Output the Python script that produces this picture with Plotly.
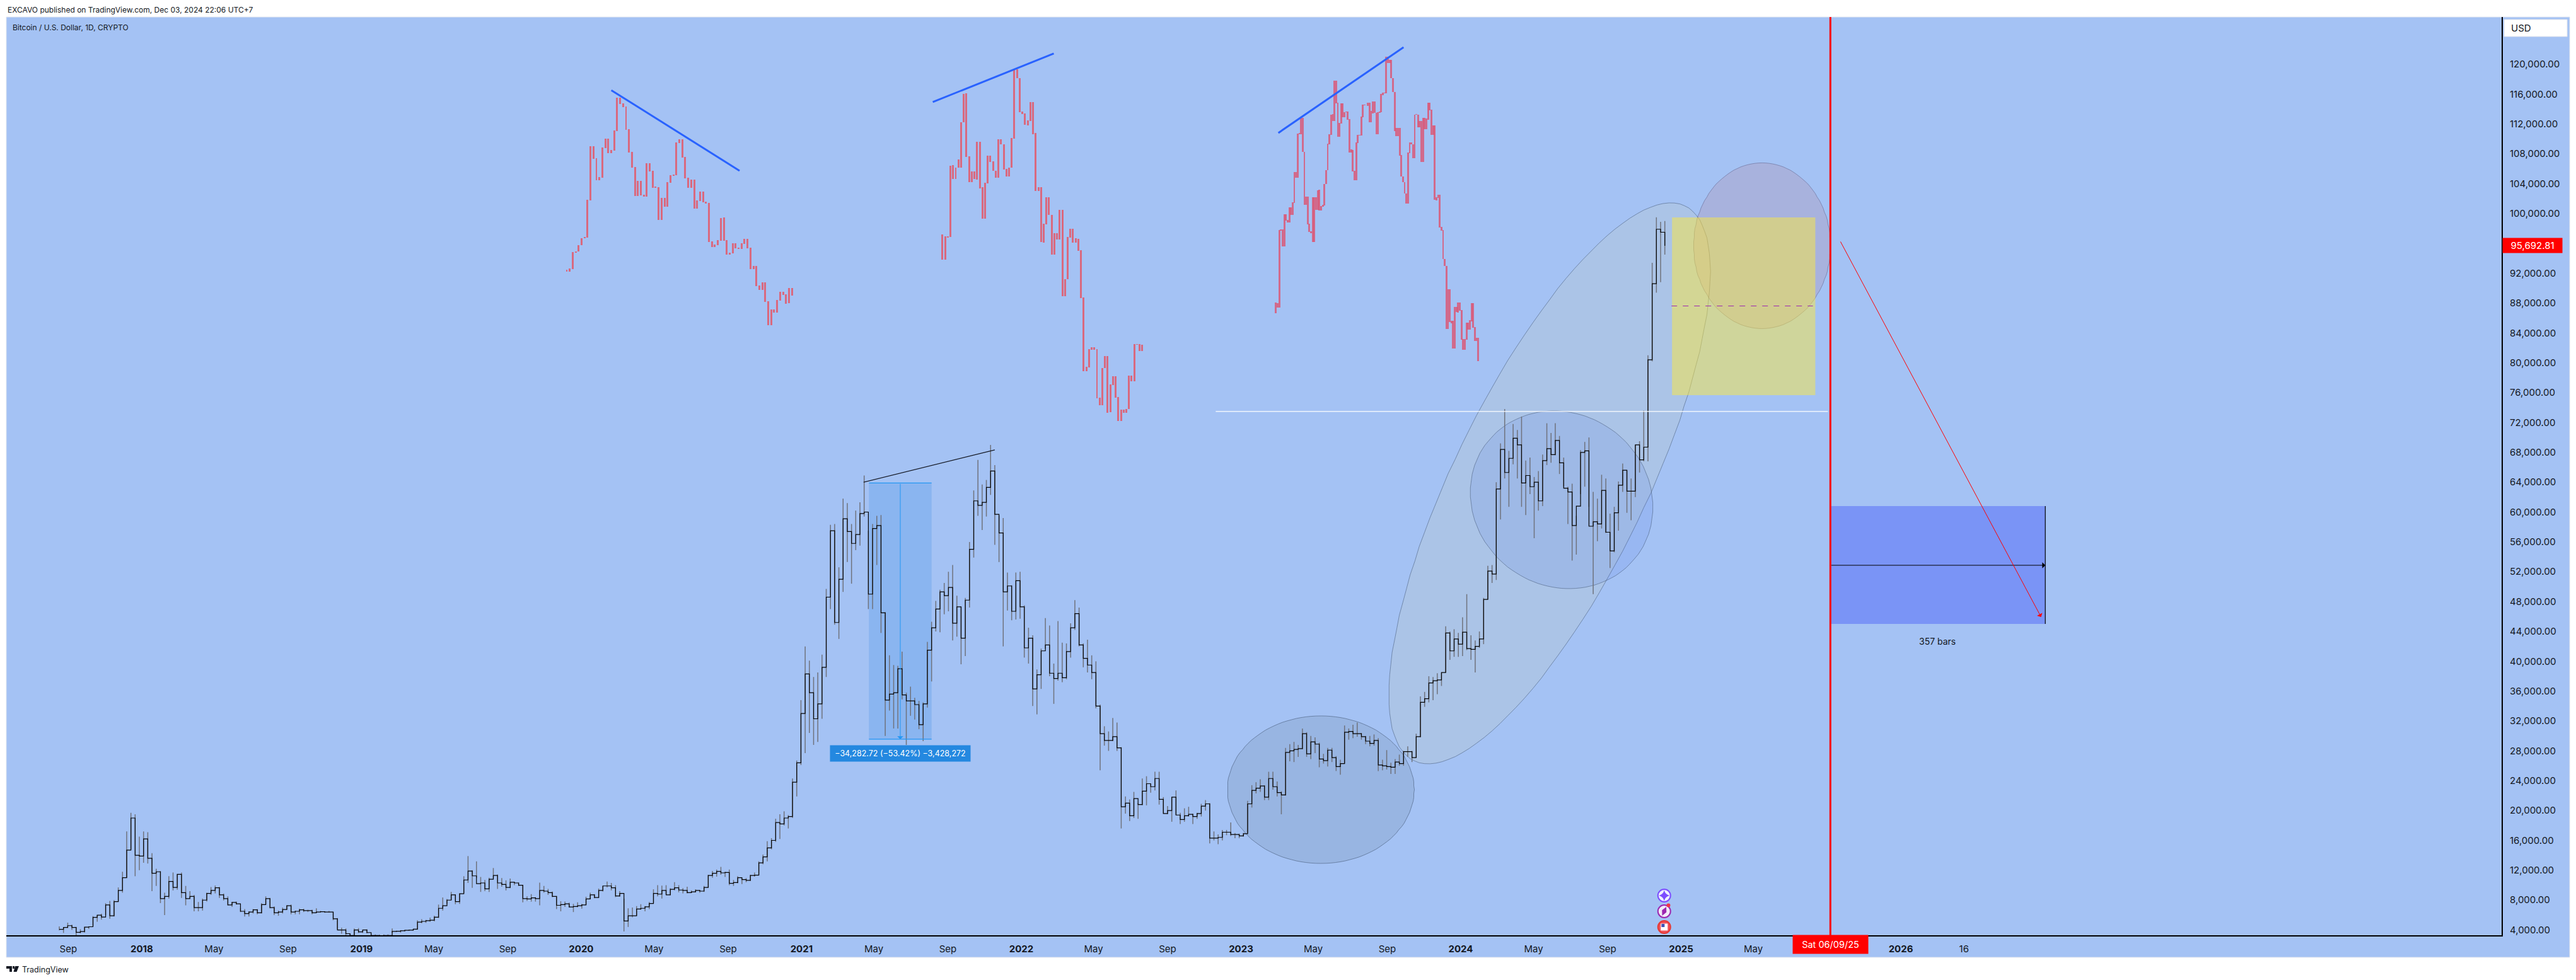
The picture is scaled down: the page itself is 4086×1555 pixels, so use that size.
import numpy as np
import pandas as pd
import plotly.graph_objects as go

# ---------- weekly price data (USD) ----------
week_starts = {2017: "2017-08-14", 2018: "2018-01-01", 2019: "2019-01-07", 2020: "2020-01-06",
               2021: "2021-01-04", 2022: "2022-01-03", 2023: "2023-01-02", 2024: "2024-01-01"}

high_2017 = [4480,4380,4980,4700,4400,4100,4400,4440,5860,6000,6190,7590,7890,8000,9700,11800,17200,19700,19500,16500]
low_2017 = [3950,3600,4280,4000,3000,3550,3650,4130,4550,5100,5380,6000,5500,5800,7800,9000,11000,14800,11200,12000]
close_2017 = [4090,4340,4580,4330,3680,3780,4370,4430,5680,5990,5730,7360,5900,7800,9300,11000,14700,19000,14000,13900]

high_2018 = [17200,17100,14300,12200,11900,9000,11200,11700,11500,11700,9900,9200,8700,7750,8200,9000,9750,9950,9780,8880,8500,7770,7800,6900,6800,6500,6800,6800,7600,8500,8300,7150,6600,7000,7300,7400,6600,6850,6850,6700,6700,6900,6550,6500,6550,6400,5600,4300,4200,3550,4200,4250,4000]
low_2018 = [13000,12900,9200,9900,7600,6000,8200,9300,9400,8300,7300,8200,6500,6500,6600,7800,8700,8900,8300,7950,7300,7100,7400,6400,5800,5800,6200,6100,6200,7400,6900,6000,5900,6200,6700,6100,6100,6100,6400,6400,6100,6300,6400,6300,6350,5300,4100,3500,3250,3200,3200,3600,3600]
close_2018 = [16200,13600,11600,11800,8200,8500,10500,9700,11450,9000,8200,8500,7000,7000,8000,8900,9300,9650,8700,8200,7350,7700,7500,6500,6200,6400,6700,6300,7400,8200,7000,6300,6400,6750,7250,6400,6500,6700,6600,6600,6300,6400,6450,6400,6400,5500,4000,4000,3500,3250,4000,3750,4000]

high_2019 = [4100,3400,3400,3350,3400,3400,4200,3900,3950,4000,4050,4150,5300,5450,5350,5650,5900,7400,8350,8150,9100,8750,8900,11200,13900,12000,13200,11100,10700,11000,12300,11450,10950,10650,10900,10450,10350,10050,8500,8800,8400,10350,9900,9500,9150,8550,7850,7800,7650,7500,7700,7500]
low_2019 = [3550,3200,3200,3150,3200,3200,3600,3750,3650,3800,3900,3900,4100,4900,4950,5100,5150,5600,6600,7500,8000,7450,7500,8950,10300,9650,11000,9100,9200,9100,10900,9500,9800,9300,9600,10000,9900,7700,7900,7800,7800,7300,9000,8700,8400,6800,6500,7100,7000,6400,7050,6850]
close_2019 = [3650,3250,3250,3200,3250,3250,3800,3820,3900,3950,3980,4100,5050,5150,5250,5300,5700,6900,7250,8000,8700,7800,8850,10700,11900,11250,10200,10300,9500,10800,11300,10300,10100,9700,10400,10300,10000,8200,8150,8300,8200,9300,9200,9000,8500,7300,7400,7500,7080,7150,7250,7350]

high_2020 = [8450,9000,8800,9550,9900,10500,10300,10000,9200,8200,6900,7000,7200,7450,7200,7750,9450,10000,9950,10000,9600,10400,10000,9600,9800,9300,9450,9350,9900,11400,11900,12100,12450,11800,12100,10700,11200,10900,10950,11400,11700,13200,14100,15900,16300,18900,19500,19900,19400,24300,26700,34800]
low_2020 = [7350,8100,8250,8300,9150,9700,9300,8400,8450,3800,4400,5700,5900,6700,6500,6800,7650,8500,8200,8800,8650,9300,9050,8900,8900,8950,9050,9000,9100,9700,11000,11150,11400,11100,10000,9900,10250,10150,10400,10550,11150,11350,12800,13200,14800,15800,16200,18000,17600,19000,21900,26100]
close_2020 = [8150,8700,8350,9300,9900,9900,9650,8550,8900,5200,5900,5900,6800,6900,7100,7550,8900,8800,9300,8700,9450,9650,9350,9300,9000,9100,9300,9200,9700,11300,11600,11850,11650,11700,10250,10350,11000,10750,10650,11300,11350,13000,13800,15000,16000,18400,18200,19000,19200,23800,26400,33000]

high_2021 = [42000,40100,37900,38500,40900,49700,58300,58400,52600,61800,61200,58400,60200,61300,64900,57500,58400,59500,59600,46600,40800,39500,39400,41300,35800,36600,35100,34700,34500,42600,45300,48100,49600,50500,52000,52900,48800,47300,48500,56000,62900,67000,63700,64300,69000,66300,59500,59200,51900,50200,51900,52000]
low_2021 = [27700,30400,28800,29200,32300,37900,47000,44900,43000,49300,53300,50400,54900,55500,59400,47000,47000,52900,43800,30000,33400,31000,31000,34900,28800,32700,32200,30900,29300,33800,37300,44000,43900,46300,46700,42800,43300,39600,40700,47200,53900,59500,57600,59400,62300,55600,53300,42000,46800,45500,45600,45700]
close_2021 = [38300,35800,32300,34300,39200,48600,57500,45200,51000,59100,57400,55800,57000,59800,60000,49000,57800,58200,46500,34800,35600,35800,39000,35500,34700,34700,34200,31500,34300,41500,44500,47000,49300,48800,49900,45100,47300,43100,48200,55000,61500,60900,61300,63300,65500,59700,57200,49300,50100,46700,50800,47300]

high_2022 = [47500,44500,43500,38900,41700,45800,44800,39700,45400,42500,42400,45100,48200,47200,42400,42900,40800,40000,34200,31300,30600,32400,31800,28500,21900,21500,22500,21000,24300,24600,23500,25200,25200,21800,20600,21800,22700,19700,20300,20500,19600,19700,20900,21400,21000,17200,16800,17400,17400,18400,17000,16900]
low_2022 = [40500,39700,34000,32900,36300,41700,38000,34300,37400,37200,37600,40500,44200,42000,39200,38500,37600,33700,25400,28700,28000,29300,28000,17600,19600,18600,19000,18900,20700,20700,22400,22700,20800,19600,19500,18500,19400,18200,18500,19200,18200,18900,19200,20000,15600,16000,15500,16000,16700,16600,16300,16300]
close_2022 = [41800,43100,36300,38200,41400,42200,38400,37700,38400,37800,41300,44500,46400,42200,40400,39500,38500,34000,30300,29400,29400,29900,28400,20500,21000,19300,21600,20800,22600,23600,23200,24300,21500,19600,20000,21800,19400,18800,19300,19500,19200,19600,20600,20900,16300,16300,16400,17100,17100,16800,16800,16600]

high_2023 = [17000,21300,23400,23800,24200,23400,25200,25200,23900,22600,28400,28900,29200,28800,31000,30500,30000,29800,29100,27600,28400,28400,27300,26800,31400,31000,31500,31800,30400,30000,30000,30200,29700,26800,28100,26400,26900,27500,28000,28600,28000,30300,35300,35900,38000,37900,38400,38500,44700,44000,44300,43800]
low_2023 = [16500,17000,20400,22300,22500,21400,21400,22800,21900,19500,22000,26600,26500,27200,28200,27200,26900,27700,25800,26300,25900,26500,25300,24800,26300,29500,29700,29900,29500,28900,28600,28700,25300,25400,25500,24900,24900,26000,26000,27200,26500,27100,29800,33900,34500,34800,35600,36700,38500,40200,40600,40600]
close_2023 = [16900,20900,22700,23000,23300,21800,24300,23200,22400,22100,27800,28000,28200,28300,30300,27600,29200,28900,26900,26700,28100,27100,25900,26300,30500,30600,30300,30300,29900,29300,29000,29400,26100,26000,25900,25800,26500,26300,27900,27900,27100,29900,34500,35000,37100,37400,37500,38500,43800,41400,43000,42300]

high_2024 = [45900,49000,43500,42800,44000,48500,52800,52900,64000,69200,73800,68200,71800,71000,72800,66900,67300,64700,65500,67700,71900,70600,71900,70200,67300,63400,63800,59500,68300,69400,70000,62700,61800,65000,64500,59800,60700,64100,66500,65600,64500,69000,69500,73600,81000,93400,99500,98900,99000]
low_2024 = [40700,41500,40200,38500,41800,42300,48300,50500,50900,59000,64500,60700,66400,64500,60700,59600,62400,56500,60200,60800,66300,66600,67600,65100,63400,58400,53500,54300,62400,63400,60700,49000,56100,57800,57200,52500,54600,57500,62700,59900,58900,62000,65300,66800,66800,80200,89400,90800,94500]
close_2024 = [43900,41700,41600,42000,43000,48300,52100,51700,63100,68400,65300,67200,69900,69000,63900,64900,63400,64000,61500,66900,68500,67700,69600,66600,63200,62700,58200,60800,68000,68200,58100,58700,58400,62900,57300,54800,59900,63600,65600,62800,62800,69000,67000,68700,80400,90600,97900,97500,95692.81]

# ---------- pasted bar patterns at the top (range high / low) ----------
pat1_span = ("2019-12-08", "2020-12-16")
pat1_high = [92450,92650,94850,94850,95750,96680,96870,101830,109030,109030,107430,104870,108840,110050,110050,108530,111120,115540,115540,114780,114330,111310,108270,106250,104390,104390,102530,106750,106750,105740,103550,103550,102110,102110,104220,105150,105230,109540,109960,109960,107600,104810,104560,104560,101770,102950,102950,101600,101430,96280,95860,96450,99410,99490,96450,94760,96030,96030,95440,96030,96620,96620,95440,92990,92990,90370,90790,90790,88260,87160,87160,88430,89530,89530,89190,90030,90030]
pat1_low = [92260,92260,92590,94760,94900,95750,96680,96820,101800,107370,104500,104500,104840,108810,108130,108130,108470,111090,114720,114270,111260,108220,106190,102390,102390,102450,102310,102310,105680,103490,103490,99180,99180,100950,100950,104160,105090,105180,109480,107540,104760,103490,103490,100700,100700,101710,101540,101380,96230,95550,95550,95800,96400,96400,94540,94540,94700,95380,95300,95300,95970,95380,92590,92590,90310,89810,89750,88200,85080,85080,86770,86770,88370,89130,87950,88030,89050]

pat2_span = ("2021-08-23", "2022-07-21")
pat2_high = [97216,96954,96954,106417,106483,106154,107272,112234,116045,116144,107666,105662,105662,109638,109638,103526,104117,107765,107765,107009,105727,109966,109966,109276,105990,106154,110131,119331,119331,118148,113680,113417,112497,114961,114961,110820,103526,103526,98629,102178,102178,99813,97381,97381,100502,100502,91204,96855,97973,97973,96691,96625,95081,88771,79472,81837,82100,82100,81837,75332,79308,80917,80917,77106,78191,78191,75431,73722,73722,73821,78290,78290,82495,82495,82495,82429]
pat2_low = [93865,93865,96855,96855,104676,104676,106122,106122,112201,107633,104249,104249,104676,104577,103394,99353,99353,104084,106943,105695,104840,104840,109243,105924,104939,104939,106122,110065,118116,113614,113351,111938,111839,112431,110656,102999,102999,96231,96132,98596,99780,94522,94522,96493,96493,88968,88968,91171,96822,96067,96132,95048,88705,78914,78914,79407,81772,81772,75266,74346,74346,79341,73327,73426,77041,75365,72177,72177,73327,73262,73821,77567,77567,82429,81608,81542]

pat3_span = ("2023-02-28", "2024-01-30")
pat3_high = [88073,88016,97809,97866,97866,99922,99922,99151,100835,100835,101520,105575,105575,110714,110771,112855,112855,108287,102263,102263,98637,97638,102205,102148,102148,103148,103205,101007,101149,103976,105860,109343,110599,113226,113340,117851,117851,114853,112141,114767,114767,113626,113683,113683,112655,108601,108515,105774,109571,110542,110542,113000,114596,114596,114539,114825,114825,113797,115053,115053,113511,113568,113683,115995,116195,116195,121049,121049,120592,120592,118137,116281,111456,111456,111456,107858,104946,104204,102719,108144,109514,109514,109286,113283,113340,113283,112369,112369,112826,112826,112712,114825,114825,113911,111798,111798,102148,102491,102491,98209,97809,93926,92955,89872,89872,85646,85646,87502,87502,88073,88073,87074,83191,83191,85419,85419,85703,87988,87988,84790,83363,83363]
pat3_low = [86675,87445,87445,97752,95582,95582,99065,98837,98837,99808,99808,101435,104775,104775,110657,110657,108258,101149,101149,98580,97580,97352,96153,96153,100493,100493,100378,100378,100921,101092,103919,105803,109286,110542,112426,112426,114796,110285,110285,112027,112941,112941,113569,112598,108144,108144,105689,104432,104432,109486,110428,110428,112941,114482,114482,114425,112198,112198,113426,113511,110657,110657,113511,113568,115910,116081,116081,120192,120192,118137,116281,111085,110371,110371,107801,104946,104204,102719,101378,101378,108087,109286,107430,107430,113226,111570,111570,106945,106945,111342,111342,112598,113854,110571,110571,101863,101806,102091,98152,97752,93869,92955,84562,84562,85447,85304,81878,81878,86789,86732,87017,83134,81707,81707,83134,84447,84447,85589,84733,82962,82962,80251]

# ---------- axis labels ----------
price_ticks = list(range(4000, 124000, 4000))
time_tick_dates = ["2017-09-01"]
time_tick_labels = ["Sep"]
for yr in range(2018, 2025):
    time_tick_dates += [f"{yr}-01-01", f"{yr}-05-01", f"{yr}-09-01"]
    time_tick_labels += [f"<b>{yr}</b>", "May", "Sep"]
time_tick_dates += ["2025-01-01", "2025-05-01", "2026-01-01", "2026-04-16"]
time_tick_labels += ["<b>2025</b>", "May", "<b>2026</b>", "16"]

BG = "#a4c2f4"
INK = "#131722"
FONT = "Inter"

# frame helpers for the page chrome (title strip, footer, side labels)
def fx(v):
    return (v - 10) / 3958
def fy(v):
    return (1484 - v) / 1457

# ---------- weekly table ----------
frames = []
data_by_year = {2017: (high_2017, low_2017, close_2017), 2018: (high_2018, low_2018, close_2018),
                2019: (high_2019, low_2019, close_2019), 2020: (high_2020, low_2020, close_2020),
                2021: (high_2021, low_2021, close_2021), 2022: (high_2022, low_2022, close_2022),
                2023: (high_2023, low_2023, close_2023), 2024: (high_2024, low_2024, close_2024)}
for yr, (h, l, c) in data_by_year.items():
    n = min(len(h), len(l), len(c))
    d = pd.date_range(week_starts[yr], periods=n, freq="7D") + pd.Timedelta(days=3)
    frames.append(pd.DataFrame({"d": d, "h": h[:n], "l": l[:n], "c": c[:n]}))
wk = pd.concat(frames, ignore_index=True)

wick_x, wick_y = [], []
for d, h, l in zip(wk.d, wk.h, wk.l):
    wick_x += [d, d, None]
    wick_y += [l, h, None]

fig = go.Figure()

# pasted patterns
MS_DAY = 86400000
for span, hi, lo, col, wd in [(pat1_span, pat1_high, pat1_low, "#d9697f", 3.1),
                              (pat2_span, pat2_high, pat2_low, "#d9697f", 3.1),
                              (pat3_span, pat3_high, pat3_low, "rgba(226,72,100,0.72)", 3.0)]:
    n = min(len(hi), len(lo))
    xs = pd.date_range(span[0], span[1], periods=n)
    fig.add_trace(go.Bar(x=xs, base=lo[:n], y=np.array(hi[:n]) - np.array(lo[:n]), width=wd * MS_DAY,
                         marker=dict(color=col, line=dict(width=0)), showlegend=False, hoverinfo="skip"))

# main series
fig.add_trace(go.Scatter(x=wick_x, y=wick_y, mode="lines", line=dict(color="#6f727c", width=1.5),
                         showlegend=False, hoverinfo="skip", connectgaps=False))
fig.add_trace(go.Scatter(x=wk.d, y=wk.c, mode="lines", line=dict(color="#050505", width=1.2, shape="hv"),
                         showlegend=False, name="BTCUSD"))

# chart event markers
fig.add_trace(go.Scatter(x=["2024-12-04"] * 3, y=[8611, 6500, 4388], mode="markers",
                         marker=dict(size=20, color=["#eef0ff", "#f2eaf8", "#f0525a"],
                                     line=dict(color=["#7c4dff", "#9c27b0", "#e53935"], width=2)),
                         showlegend=False, hoverinfo="skip"))
fig.add_trace(go.Scatter(x=["2024-12-04"], y=[8611], mode="markers",
                         marker=dict(size=12, symbol="star-diamond", color="#7c4dff"),
                         showlegend=False, hoverinfo="skip"))
fig.add_trace(go.Scatter(x=["2024-12-04"], y=[6500], mode="markers",
                         marker=dict(size=11, symbol="diamond-tall", angle=25, color="#9c27b0"),
                         showlegend=False, hoverinfo="skip"))
fig.add_trace(go.Scatter(x=["2024-12-11"], y=[7300], mode="markers",
                         marker=dict(size=6, color="#f23645"), showlegend=False, hoverinfo="skip"))
fig.add_trace(go.Scatter(x=["2024-12-04"], y=[4388], mode="markers",
                         marker=dict(size=11, symbol="square", color="#ffffff"),
                         showlegend=False, hoverinfo="skip"))
fig.add_trace(go.Scatter(x=["2024-12-02"], y=[4600], mode="markers",
                         marker=dict(size=5, symbol="square", color="#3f51b5"),
                         showlegend=False, hoverinfo="skip"))

# ---------- drawings ----------
shapes = []

def ellipse(center_date, center_price, a_days, a_price, b_days, b_price, fill, line):
    t = np.linspace(0, 2 * np.pi, 121)[:-1]
    c = pd.Timestamp(center_date)
    pts = []
    for ti in t:
        dx = a_days * np.cos(ti) + b_days * np.sin(ti)
        py = center_price + a_price * np.cos(ti) + b_price * np.sin(ti)
        pts.append(f"{(c + pd.Timedelta(days=float(dx))).strftime('%Y-%m-%d')},{py:.0f}")
    shapes.append(dict(type="path", xref="x", yref="y", layer="below",
                       path="M " + " L ".join(pts) + " Z", fillcolor=fill,
                       line=dict(color=line, width=1)))

def rect(x0, x1, y0, y1, fill):
    shapes.append(dict(type="rect", xref="x", yref="y", x0=x0, x1=x1, y0=y0, y1=y1,
                       fillcolor=fill, line=dict(width=0), layer="below"))

def seg(x0, y0, x1, y1, color, width=1, dash="solid", layer="above"):
    shapes.append(dict(type="line", xref="x", yref="y", x0=x0, x1=x1, y0=y0, y1=y1,
                       line=dict(color=color, width=width, dash=dash), layer=layer))

# page frame
shapes.append(dict(type="rect", xref="paper", yref="paper", x0=fx(10), x1=fx(4076), y0=fy(1519), y1=fy(27),
                   fillcolor=BG, line=dict(color="#dfe4ee", width=1), layer="below"))

ellipse("2024-05-28", 63850, 267, 28378, 0, 24645, "rgba(190,205,190,0.25)", "rgba(70,90,120,0.55)")
ellipse("2024-06-17", 61650, 151.8, -988, 0, 11867, "rgba(50,85,230,0.10)", "rgba(70,90,120,0.55)")
ellipse("2023-05-14", 22800, 155, 0, 0, 9882, "rgba(90,110,130,0.15)", "rgba(70,90,120,0.6)")
ellipse("2025-05-16", 95690, 113.6, 0, 0, 11106, "rgba(197,87,91,0.15)", "rgba(90,90,130,0.5)")
rect("2024-12-17", "2025-08-12", 75670, 99490, "rgba(255,235,59,0.48)")
seg("2024-12-16", 87620, "2025-08-08", 87620, "#9c27b0", 1, "dash")
seg("2022-11-20", 73480, "2025-09-02", 73480, "#ffffff", 1.3)

# date/price range tool
rect("2021-04-23", "2021-08-05", 29560, 63900, "rgba(33,130,225,0.2)")
seg("2021-04-23", 63900, "2021-08-05", 63900, "#2196f3", 1.2)
seg("2021-04-23", 29560, "2021-08-05", 29560, "#2196f3", 1.2)
seg("2021-04-14", 64000, "2021-11-18", 68325, "#131722", 1.2)

# blue trend lines over patterns
seg("2020-02-20", 116525, "2020-09-20", 105740, "#2962ff", 3)
seg("2021-08-07", 114950, "2022-02-24", 121450, "#2962ff", 3)
seg("2023-03-04", 110810, "2023-09-28", 122290, "#2962ff", 3)

# forward projection block
rect("2025-09-06", "2026-08-29", 45010, 60810, "#7a94f6")
seg("2025-09-06", 45010, "2025-09-06", 60810, "#000000", 1.2)
seg("2026-08-29", 45010, "2026-08-29", 60810, "#000000", 1.2)

# vertical red line
shapes.append(dict(type="line", xref="x", yref="paper", x0="2025-09-06", x1="2025-09-06", y0=0, y1=1,
                   line=dict(color="#ff0000", width=3), layer="above"))

# USD box
shapes.append(dict(type="rect", xref="paper", yref="paper", x0=fx(3972), x1=fx(4072), y0=fy(58), y1=fy(31),
                   fillcolor="#ffffff", line=dict(color="#e0e3eb", width=1), layer="above"))

# footer logo
def logo(pts):
    return "M " + " L ".join(f"{fx(a):.6f},{fy(b):.6f}" for a, b in pts) + " Z"
for pts in [[(10, 1533), (19, 1533), (19, 1542), (15, 1542), (15, 1537), (10, 1537)],
            [(20, 1533), (23, 1533), (23, 1537), (20, 1537)],
            [(24, 1533), (30, 1533), (26.5, 1542), (21.5, 1542)]]:
    shapes.append(dict(type="path", xref="paper", yref="paper", path=logo(pts),
                       fillcolor=INK, line=dict(width=0), layer="above"))

annotations = [
    dict(text="EXCAVO published on TradingView.com, Dec 03, 2024 22:06 UTC+7", xref="paper", yref="paper",
         x=fx(10), y=fy(15), xanchor="left", yanchor="middle", showarrow=False, font=dict(size=12, color=INK, family=FONT)),
    dict(text="Bitcoin / U.S. Dollar, 1D, CRYPTO", xref="paper", yref="paper",
         x=fx(18), y=fy(43), xanchor="left", yanchor="middle", showarrow=False, font=dict(size=12, color=INK, family=FONT)),
    dict(text="TradingView", xref="paper", yref="paper", x=fx(33), y=fy(1538), xanchor="left", yanchor="middle",
         showarrow=False, font=dict(size=12.5, color=INK, family=FONT)),
    dict(text="USD", xref="paper", yref="paper", x=fx(3981), y=fy(44), xanchor="left", yanchor="middle",
         showarrow=False, font=dict(size=15, color=INK, family=FONT)),
    dict(text="95,692.81", xref="paper", yref="y", x=fx(3969), y=95692.81, xanchor="left", yanchor="middle",
         showarrow=False, width=94, height=23, bgcolor="#ff0000", borderpad=0,
         font=dict(size=15, color="#ffffff", family=FONT)),
    dict(text="Sat 06/09/25", xref="x", yref="paper", x="2025-09-06", y=fy(1498.5), xanchor="center", yanchor="middle",
         showarrow=False, width=119, height=29, bgcolor="#ff0000", borderpad=0,
         font=dict(size=14.5, color="#ffffff", family=FONT)),
    dict(text="357 bars", xref="x", yref="y", x="2026-03-03", y=42730, showarrow=False,
         font=dict(size=14, color=INK, family=FONT)),
    dict(text="−34,282.72 (−53.42%) −3,428,272", xref="x", yref="y", x="2021-06-14", y=27660, showarrow=False,
         width=222, height=25, bgcolor="#2488e0", borderpad=0, font=dict(size=12.5, color="#ffffff", family=FONT)),
    # arrows
    dict(text="", xref="x", yref="y", axref="x", ayref="y", x="2021-06-14", y=29560, ax="2021-06-14", ay=63900,
         showarrow=True, arrowhead=1, arrowsize=1.6, arrowwidth=1, arrowcolor="#2196f3"),
    dict(text="", xref="x", yref="y", axref="x", ayref="y", x="2026-08-29", y=52870, ax="2025-09-06", ay=52870,
         showarrow=True, arrowhead=1, arrowsize=1.6, arrowwidth=1, arrowcolor="#000000"),
    dict(text="", xref="x", yref="y", axref="x", ayref="y", x="2026-08-22", y=45940, ax="2025-09-22", ay=96365,
         showarrow=True, arrowhead=1, arrowsize=1.6, arrowwidth=1, arrowcolor="#ff0000"),
]

fig.update_layout(
    width=4086, height=1555, autosize=False,
    margin=dict(l=10, r=118, t=27, b=71, pad=0),
    paper_bgcolor="#ffffff", plot_bgcolor=BG, barmode="overlay", showlegend=False,
    font=dict(family=FONT, color=INK, size=15),
    shapes=shapes, annotations=annotations, bargap=0,
    xaxis=dict(type="date", range=["2017-05-21", "2028-09-25"], showgrid=False, zeroline=False,
               tickmode="array", tickvals=time_tick_dates, ticktext=time_tick_labels, ticklen=0,
               showline=True, linecolor="#000000", linewidth=2, ticklabelstandoff=7,
               tickfont=dict(size=15, color=INK, family=FONT), tickangle=0),
    yaxis=dict(side="right", range=[3290, 126340], showgrid=False, zeroline=False,
               tickmode="array", tickvals=price_ticks, ticktext=[f"{v:,.2f}" for v in price_ticks], ticklen=0,
               showline=True, linecolor="#000000", linewidth=2, ticklabelstandoff=8,
               tickfont=dict(size=15, color=INK, family=FONT)),
)

fig.write_html("out.html", post_script="document.body.style.margin='0';",
               config={"displayModeBar": False})
